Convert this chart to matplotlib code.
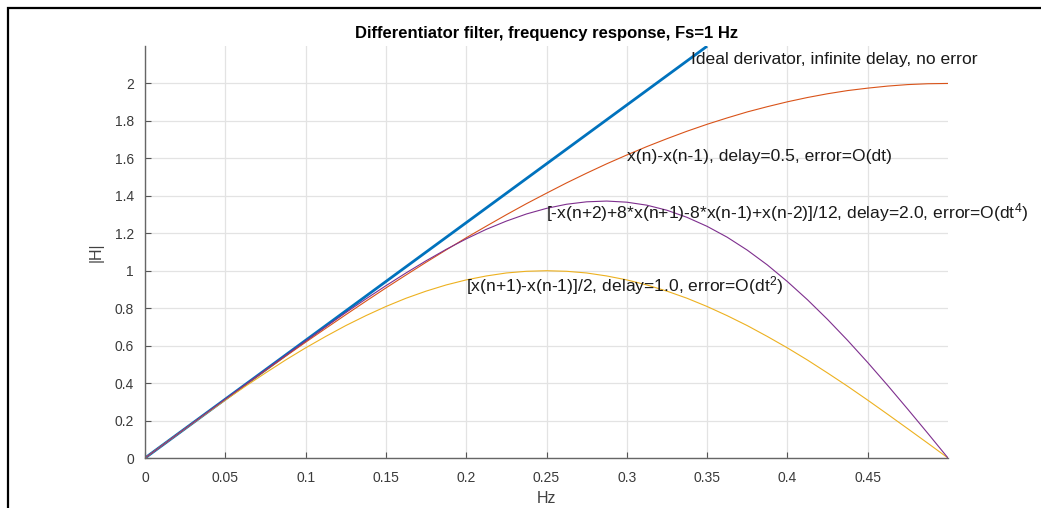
import matplotlib
matplotlib.use('Agg')
import matplotlib.pyplot as plt
from matplotlib.patches import Rectangle

plt.rcParams['font.family'] = ['Liberation Sans', 'DejaVu Sans']
plt.rcParams['mathtext.fontset'] = 'custom'
plt.rcParams['mathtext.rm'] = 'Liberation Sans'
plt.rcParams['mathtext.it'] = 'Liberation Sans'

# frequency grid (Hz) and magnitudes
freq = [0.0, 0.0125, 0.025, 0.0375, 0.05, 0.0625, 0.075, 0.0875, 0.1, 0.1125,
        0.125, 0.1375, 0.15, 0.1625, 0.175, 0.1875, 0.2, 0.2125, 0.225, 0.2375,
        0.25, 0.2625, 0.275, 0.2875, 0.3, 0.3125, 0.325, 0.3375, 0.35, 0.3625,
        0.375, 0.3875, 0.4, 0.4125, 0.425, 0.4375, 0.45, 0.4625, 0.475, 0.4875, 0.5]
h_first = [0.0, 0.0785, 0.157, 0.235, 0.313, 0.390, 0.467, 0.543, 0.618, 0.692,
           0.765, 0.837, 0.908, 0.977, 1.045, 1.111, 1.176, 1.238, 1.299, 1.358,
           1.414, 1.469, 1.521, 1.571, 1.618, 1.663, 1.705, 1.745, 1.782, 1.816,
           1.848, 1.876, 1.902, 1.925, 1.945, 1.962, 1.975, 1.986, 1.994, 1.9985, 2.0]
h_central = [0.0, 0.0785, 0.156, 0.233, 0.309, 0.383, 0.454, 0.523, 0.588, 0.649,
             0.707, 0.760, 0.809, 0.853, 0.891, 0.924, 0.951, 0.972, 0.988, 0.997,
             1.0, 0.997, 0.988, 0.972, 0.951, 0.924, 0.891, 0.853, 0.809, 0.760,
             0.707, 0.649, 0.588, 0.523, 0.454, 0.383, 0.309, 0.233, 0.156, 0.0785, 0.0]
h_fourth = [0.0, 0.0786, 0.157, 0.2355, 0.314, 0.392, 0.4705, 0.548, 0.625, 0.701,
            0.776, 0.849, 0.920, 0.988, 1.053, 1.114, 1.170, 1.221, 1.265, 1.303,
            1.333, 1.355, 1.368, 1.372, 1.366, 1.350, 1.323, 1.285, 1.237, 1.179,
            1.110, 1.031, 0.942, 0.845, 0.740, 0.628, 0.510, 0.387, 0.260, 0.131, 0.0]
ideal_f = [0.0, 0.35]
ideal_h = [0.0, 2.199]

labels = [
    (0.34, 2.13, 'Ideal derivator, infinite delay, no error'),
    (0.30, 1.61, 'x(n)-x(n-1), delay=0.5, error=O(dt)'),
    (0.25, 1.31, '[-x(n+2)+8*x(n+1)-8*x(n-1)+x(n-2)]/12, delay=2.0, error=O(dt$^4$)'),
    (0.20, 0.92, '[x(n+1)-x(n-1)]/2, delay=1.0, error=O(dt$^2$)'),
]
xticks = [0, 0.05, 0.1, 0.15, 0.2, 0.25, 0.3, 0.35, 0.4, 0.45]
yticks = [0, 0.2, 0.4, 0.6, 0.8, 1, 1.2, 1.4, 1.6, 1.8, 2]

W, H = 1041, 508
fig = plt.figure(figsize=(W / 100, H / 100), dpi=100)
fig.patch.set_facecolor('white')
ax = fig.add_axes([145 / W, 50 / H, (948 - 145) / W, (458 - 46) / H])

ax.plot(ideal_f, ideal_h, color='#0072BD', lw=2.0, solid_capstyle='butt')
ax.plot(freq, h_first, color='#D95319', lw=0.8)
ax.plot(freq, h_central, color='#EDB120', lw=0.8)
ax.plot(freq, h_fourth, color='#7E2F8E', lw=0.8)

for x, y, s in labels:
    ax.text(x, y, s, ha='left', va='center', fontsize=12.6, color='#1a1a1a')

ax.set_xlim(0, 0.5)
ax.set_ylim(0, 2.2)
ax.set_xticks(xticks)
ax.set_xticklabels([f'{t:g}' for t in xticks])
ax.set_yticks(yticks)
ax.set_yticklabels([f'{t:g}' for t in yticks])
ax.grid(True, color='#e3e3e3', lw=0.9)
ax.set_axisbelow(True)
for side in ['top', 'right']:
    ax.spines[side].set_visible(False)
for side in ['left', 'bottom']:
    ax.spines[side].set_color('#666666')
    ax.spines[side].set_linewidth(1.0)
ax.tick_params(direction='in', length=4, width=0.8, colors='#555555',
               labelsize=10, labelcolor='#3a3a3a')
ax.tick_params(axis='x', pad=9)
ax.tick_params(axis='y', pad=8)

ax.set_title('Differentiator filter, frequency response, Fs=1 Hz',
             fontsize=12, fontweight='bold', pad=6)
ax.set_xlabel('Hz', fontsize=11.5, color='#404040', labelpad=5)
ax.set_ylabel('|H|', fontsize=11.5, color='#404040', labelpad=8)

# outer frame (screenshot border)
fig.patches.append(Rectangle((8 / W, -0.1), 1.2, 1.1 - 8 / H,
                             transform=fig.transFigure, fill=False,
                             edgecolor='black', lw=1.6))

fig.savefig('out.png', dpi=100, facecolor='white')
